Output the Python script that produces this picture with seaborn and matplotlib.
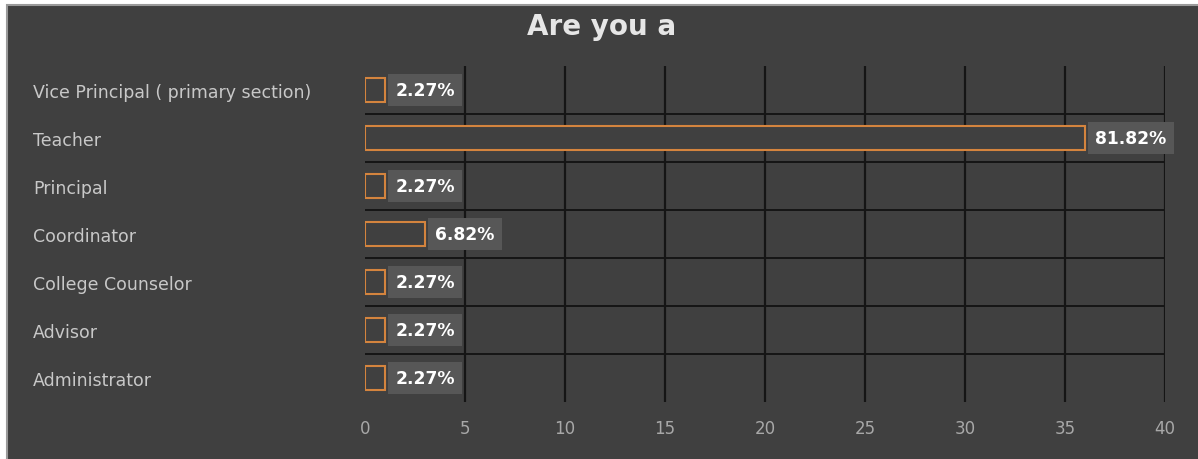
import matplotlib
matplotlib.use("Agg")
import matplotlib.pyplot as plt
from matplotlib.patches import Rectangle
import seaborn as sns

# Survey answers: "Are you a"
categories = ["Vice Principal ( primary section)", "Teacher", "Principal",
              "Coordinator", "College Counselor", "Advisor", "Administrator"]
counts = [1, 36, 1, 3, 1, 1, 1]
pct_labels = ["2.27%", "81.82%", "2.27%", "6.82%", "2.27%", "2.27%", "2.27%"]
x_ticks = [0, 5, 10, 15, 20, 25, 30, 35, 40]

bg = "#404040"
orange = "#d4843e"

sns.set_style("white")
plt.rcParams["font.family"] = ["DejaVu Sans"]

fig = plt.figure(figsize=(11.98, 4.6), dpi=100)
fig.patch.set_facecolor("white")
fig.patches.append(Rectangle((7 / 1198, -0.01), 1.02, 1 - 6 / 460 + 0.01,
                             transform=fig.transFigure, facecolor=bg,
                             edgecolor="#9a9a9a", linewidth=1.5, zorder=-10))

ax = fig.add_axes([365 / 1198, 1 - 403 / 460, 800 / 1198, 336 / 460])
ax.set_facecolor(bg)
ax.set_zorder(5)

sns.barplot(x=counts, y=categories, orient="h", ax=ax, color=orange,
            fill=False, width=0.5, linewidth=1.5, zorder=3)
for p in ax.patches:
    p.set_facecolor(bg)
    p.set_edgecolor(orange)
    p.set_fill(True)

ax.set_xlim(0, 40)
ax.set_ylim(6.5, -0.5)

# grid: vertical at major ticks except 0, horizontal separators between rows
ax.vlines(x_ticks[1:], -0.5, 6.5, color="#151515", linewidth=1.6, zorder=1)
ax.hlines([i + 0.5 for i in range(len(categories) - 1)], 0, 40,
          color="#151515", linewidth=1.4, zorder=1)

for i, (c, lab) in enumerate(zip(counts, pct_labels)):
    ax.annotate(lab, (c, i), xytext=(7.5, 0), textcoords="offset points",
                ha="left", va="center", color="white", fontsize=12.3,
                fontweight="bold", zorder=5,
                bbox=dict(boxstyle="square,pad=0.42", facecolor="#575757",
                          edgecolor="none"))

ax.set_xticks(x_ticks)
ax.set_xticklabels([str(t) for t in x_ticks], color="#a8a8a8", fontsize=12)
ax.tick_params(axis="x", length=0, pad=12)
ax.set_yticks(range(len(categories)))
ax.set_yticklabels(categories, color="#c8c8c8", fontsize=12.5)
ax.tick_params(axis="y", length=0, pad=239)
for t in ax.get_yticklabels():
    t.set_ha("left")

for s in ax.spines.values():
    s.set_visible(False)
ax.set_xlabel("")
ax.set_ylabel("")

fig.text(0.502, 1 - 27 / 460, "Are you a", ha="center", va="center",
         color="#e6e6e6", fontsize=20, fontweight="bold")

fig.savefig("out.png", dpi=100, facecolor=fig.get_facecolor())
